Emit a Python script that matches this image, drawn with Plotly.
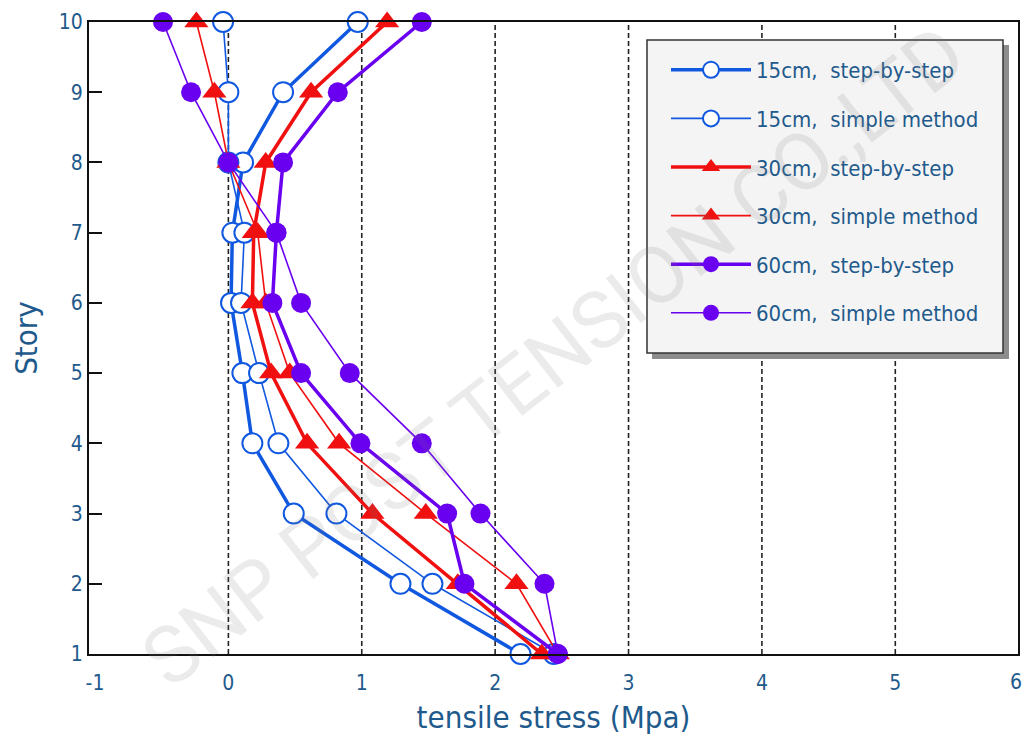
import plotly.graph_objects as go

stories = [1, 2, 3, 4, 5, 6, 7, 8, 9, 10]
x_ticks = [-1, 0, 1, 2, 3, 4, 5]
x_tick_text = ["-1", "0", "1", "2", "3", "4", "5"]
grid_x = [0, 1, 2, 3, 4, 5]

names = ["15cm,  step-by-step", "15cm,  simple method",
         "30cm,  step-by-step", "30cm,  simple method",
         "60cm,  step-by-step", "60cm,  simple method"]

blue_step = [2.19, 1.29, 0.49, 0.18, 0.105, 0.02, 0.03, 0.11, 0.41, 0.97]
blue_simple = [2.44, 1.53, 0.81, 0.375, 0.23, 0.095, 0.12, 0.0, 0.0, -0.04]
red_step = [2.35, 1.72, 1.08, 0.59, 0.32, 0.18, 0.19, 0.28, 0.62, 1.19]
red_simple = [2.47, 2.16, 1.48, 0.83, 0.46, 0.28, 0.22, 0.0, -0.105, -0.24]
purple_step = [2.47, 1.77, 1.64, 0.99, 0.545, 0.33, 0.36, 0.41, 0.82, 1.45]
purple_simple = [2.47, 2.37, 1.89, 1.45, 0.91, 0.545, 0.36, 0.0, -0.28, -0.49]

BLUE = "#1158e0"
RED = "#f01010"
PURPLE = "#6a00f0"
TXT = "#1f5a8c"
FONT = "Liberation Sans Narrow, DejaVu Sans Condensed, Roboto Condensed, Roboto, sans-serif"

# plot-area pixel geometry (for placing the legend box)
L, R, T, B = 89, 1018, 22, 654


def px_x(p):
    return (p - L) / (R - L)


def px_y(p):
    return (B - p) / (B - T)


series = [
    (blue_step, BLUE, 3.5, "circle", "white"),
    (blue_simple, BLUE, 1.6, "circle", "white"),
    (red_step, RED, 3.5, "triangle-up", RED),
    (red_simple, RED, 1.6, "triangle-up", RED),
    (purple_step, PURPLE, 3.5, "circle", PURPLE),
    (purple_simple, PURPLE, 1.6, "circle", PURPLE),
]

fig = go.Figure()
for i, (vals, col, lw, sym, fill) in enumerate(series):
    fig.add_trace(go.Scatter(
        x=vals, y=stories, name=names[i], mode="lines+markers",
        legendgroup="g%d" % i,
        line=dict(color=col, width=lw),
        marker=dict(symbol=sym, size=20 if sym == "circle" else 21, color=fill,
                    line=dict(color=col if fill == "white" else fill, width=2 if fill == "white" else 0)),
        cliponaxis=False,
    ))

shapes = []
for g in grid_x:
    shapes.append(dict(type="line", xref="x", yref="paper", x0=g, x1=g, y0=0, y1=1,
                       line=dict(color="#222", width=1.6, dash="5px,3px"), layer="below"))
# legend shadow and box
shapes.append(dict(type="rect", xref="paper", yref="paper",
                   x0=px_x(652), x1=px_x(1009), y0=px_y(359), y1=px_y(45),
                   line=dict(width=0), fillcolor="#8c8c8c", layer="above"))
shapes.append(dict(type="rect", xref="paper", yref="paper",
                   x0=px_x(647), x1=px_x(1003), y0=px_y(353), y1=px_y(40),
                   line=dict(width=1.5, color="#333"), fillcolor="#f4f4f4", layer="above"))

fig.update_layout(
    width=1025, height=740,
    margin=dict(l=L, r=1025 - R, t=T, b=740 - B),
    paper_bgcolor="white", plot_bgcolor="white",
    font=dict(family=FONT, color=TXT, size=21),
    shapes=shapes,
    showlegend=True,
    legend=dict(x=px_x(666), y=px_y(49), xanchor="left", yanchor="top",
                bgcolor="rgba(0,0,0,0)", borderwidth=0,
                font=dict(size=22, color=TXT, family=FONT),
                tracegroupgap=17, itemwidth=80),
    xaxis=dict(range=[-1.045, 5.92], tickvals=x_ticks, ticktext=x_tick_text,
               showgrid=False, zeroline=False,
               showline=True, linecolor="#111", linewidth=2, mirror=True, automargin=False,
               ticks="", ticklabelstandoff=9, tickfont=dict(size=21, color=TXT),
               title=dict(text="tensile stress (Mpa)", font=dict(size=31, color=TXT), standoff=12)),
    yaxis=dict(range=[1, 10], tickvals=stories, showgrid=False, zeroline=False,
               showline=True, linecolor="#111", linewidth=2, mirror=True, automargin=False,
               ticks="inside", ticklen=13, tickcolor="#111", tickwidth=2,
               tickfont=dict(size=21, color=TXT),
               title=dict(text="Story", font=dict(size=31, color=TXT), standoff=12)),
    annotations=[
        dict(text="6", xref="paper", yref="paper", x=px_x(1016), y=0, xanchor="center",
             yanchor="top", yshift=-14, showarrow=False, font=dict(size=21, color=TXT)),
        dict(text="SNP POST TENSION CO.,LTD", xref="paper", yref="paper",
             x=0.50, y=0.47, showarrow=False, textangle=-38,
             font=dict(size=80, color="rgba(120,120,120,0.15)", family="Roboto, sans-serif")),
    ],
)

fig.write_html("out.html")
